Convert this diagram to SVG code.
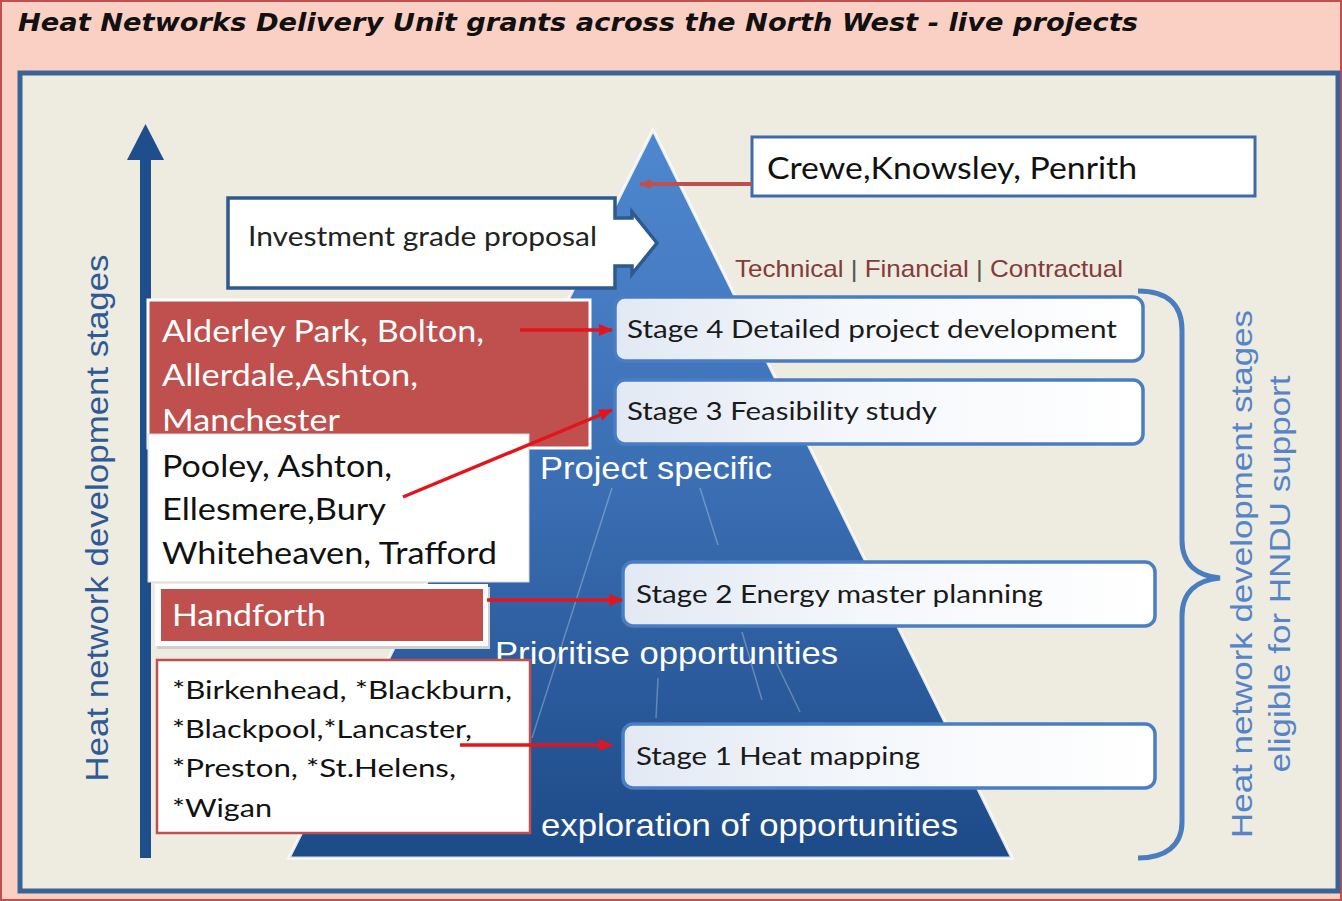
<svg xmlns="http://www.w3.org/2000/svg" width="1342" height="901" viewBox="0 0 1342 901">
<defs>
<linearGradient id="pyr" x1="0" y1="130" x2="0" y2="858" gradientUnits="userSpaceOnUse">
<stop offset="0" stop-color="#4f88d0"/>
<stop offset="0.5" stop-color="#3a6db2"/>
<stop offset="1" stop-color="#1d4a88"/>
</linearGradient>
<linearGradient id="stagefill" x1="0" y1="0" x2="1" y2="0">
<stop offset="0" stop-color="#e2e9f4"/>
<stop offset="0.45" stop-color="#f4f7fb"/>
<stop offset="1" stop-color="#ffffff"/>
</linearGradient>
<marker id="redhead" markerWidth="14" markerHeight="12" refX="13" refY="6" orient="auto" markerUnits="userSpaceOnUse">
<path d="M0,0 L14,6 L0,12 z" fill="#e3141c"/>
</marker>
<marker id="darkredhead" markerWidth="12" markerHeight="10" refX="11" refY="5" orient="auto" markerUnits="userSpaceOnUse">
<path d="M0,0 L12,5 L0,10 z" fill="#c0504d"/>
</marker>
<style>
.cal{font-family:Lato,"Noto Sans","Liberation Sans",sans-serif}
.ari{font-family:"Liberation Sans",Arial,sans-serif}
.stage rect{fill:url(#stagefill);stroke:#4a7ec4;stroke-width:3.5}
.stage text{font-size:25px;fill:#1a1a1a}
.redbox{fill:#c0504d;stroke:#ffffff;stroke-width:3}
.wtxt{fill:#ffffff;font-size:30px}
.btxt{fill:#111111;font-size:30px}
.stxt{fill:#111111;font-size:25px}
.pyrtxt{fill:#ffffff;font-size:32px}
.conn{stroke:#e3141c;stroke-width:3.5;fill:none;marker-end:url(#redhead)}
</style>
</defs>

<!-- background -->
<rect x="0" y="0" width="1342" height="901" fill="#fbd0c4"/>
<rect x="1" y="1" width="1340" height="899" fill="none" stroke="#c0504d" stroke-width="2"/>
<text x="18" y="31" font-family="'DejaVu Sans',Verdana,sans-serif" font-weight="bold" font-style="italic" font-size="25" fill="#111111" textLength="1120" lengthAdjust="spacingAndGlyphs">Heat Networks Delivery Unit grants across the North West - live projects</text>

<!-- panel -->
<rect x="20" y="73" width="1318" height="818" fill="#eeebe1" stroke="#3b6495" stroke-width="5"/>

<!-- vertical axis arrow -->
<g id="axis">
<rect x="140" y="158" width="11" height="700" fill="#1f4e8c"/>
<path d="M127,160 L145.5,124 L164,160 z" fill="#1f4e8c"/>
<text class="ari" transform="translate(108,518) rotate(-90)" text-anchor="middle" font-size="31" fill="#2e5a96" textLength="527" lengthAdjust="spacingAndGlyphs">Heat network development stages</text>
</g>

<!-- pyramid -->
<g id="pyramid">
<path d="M653,130 L1012,858 L289,858 z" fill="url(#pyr)" stroke="#ffffff" stroke-width="3" stroke-opacity="0.85"/>
<g stroke="#ffffff" stroke-opacity="0.28" stroke-width="1.5">
<line x1="612" y1="488" x2="532" y2="738"/>
<line x1="700" y1="488" x2="718" y2="545"/>
<line x1="742" y1="632" x2="762" y2="700"/>
<line x1="775" y1="660" x2="800" y2="712"/>
<line x1="658" y1="678" x2="656" y2="718"/>
</g>
<text class="ari pyrtxt" x="540" y="479" textLength="232" lengthAdjust="spacingAndGlyphs">Project specific</text>
<text class="ari pyrtxt" x="495" y="664" textLength="343" lengthAdjust="spacingAndGlyphs">Prioritise opportunities</text>
<text class="ari pyrtxt" x="541" y="836" textLength="417" lengthAdjust="spacingAndGlyphs">exploration of opportunities</text>
</g>

<!-- investment grade proposal -->
<g id="investment">
<path d="M228,198 L615,198 L615,218 L632,218 L632,212 L657,243 L632,274 L632,266 L615,266 L615,288 L228,288 z" fill="#ffffff" stroke="#2f5a8f" stroke-width="3.5" stroke-linejoin="miter"/>
<text class="cal" x="248" y="246" font-size="26" fill="#222222" textLength="349" lengthAdjust="spacingAndGlyphs">Investment grade proposal</text>
</g>

<!-- Crewe box -->
<g id="crewe">
<rect x="752" y="137" width="503" height="59" fill="#ffffff" stroke="#3d6aa8" stroke-width="3"/>
<text class="cal" x="767" y="179" font-size="31" fill="#111111" textLength="370" lengthAdjust="spacingAndGlyphs">Crewe,Knowsley, Penrith</text>
</g>

<!-- technical label -->
<g id="tfc">
<text class="ari" x="735" y="277" font-size="24" fill="#843c39" textLength="388" lengthAdjust="spacingAndGlyphs">Technical <tspan fill="#555555">|</tspan> Financial <tspan fill="#555555">|</tspan> Contractual</text>
</g>

<!-- stages -->
<g id="stage4" class="stage cal">
<rect x="615" y="297" width="528" height="64" rx="10"/>
<text x="627" y="338" textLength="490" lengthAdjust="spacingAndGlyphs">Stage 4 Detailed project development</text>
</g>
<g id="stage3" class="stage cal">
<rect x="615" y="380" width="528" height="64" rx="10"/>
<text x="627" y="420" textLength="310" lengthAdjust="spacingAndGlyphs">Stage 3 Feasibility study</text>
</g>
<g id="stage2" class="stage cal">
<rect x="623" y="562" width="532" height="64" rx="10"/>
<text x="636" y="603" textLength="407" lengthAdjust="spacingAndGlyphs">Stage 2 Energy master planning</text>
</g>
<g id="stage1" class="stage cal">
<rect x="623" y="724" width="532" height="64" rx="10"/>
<text x="636" y="765" textLength="284" lengthAdjust="spacingAndGlyphs">Stage 1 Heat mapping</text>
</g>

<!-- brace and right label -->
<g id="brace">
<path d="M1138,291 C1168,291 1182,305 1182,330 L1182,540 C1182,565 1198,576 1220,578 C1198,580 1182,591 1182,616 L1182,822 C1182,846 1165,858 1138,858" fill="none" stroke="#4a7cc0" stroke-width="5"/>
<text class="ari" transform="translate(1252,574) rotate(-90)" text-anchor="middle" font-size="30" fill="#5585c8" textLength="528" lengthAdjust="spacingAndGlyphs">Heat network development stages</text>
<text class="ari" transform="translate(1290,574) rotate(-90)" text-anchor="middle" font-size="30" fill="#5585c8" textLength="397" lengthAdjust="spacingAndGlyphs">eligible for HNDU support</text>
</g>

<!-- left project boxes -->
<g id="box-stage4">
<rect class="redbox" x="148" y="300" width="442" height="148"/>
<text class="cal wtxt" x="162" y="342" textLength="322" lengthAdjust="spacingAndGlyphs">Alderley Park, Bolton,</text>
<text class="cal wtxt" x="162" y="386" textLength="256" lengthAdjust="spacingAndGlyphs">Allerdale,Ashton,</text>
<text class="cal wtxt" x="162" y="431" textLength="178" lengthAdjust="spacingAndGlyphs">Manchester</text>
</g>
<g id="box-stage3">
<rect x="148" y="434" width="381" height="148" fill="#ffffff" stroke="#d8d8d8" stroke-width="1"/>
<text class="cal btxt" x="162" y="477" textLength="230" lengthAdjust="spacingAndGlyphs">Pooley, Ashton,</text>
<text class="cal btxt" x="162" y="520" textLength="224" lengthAdjust="spacingAndGlyphs">Ellesmere,Bury</text>
<text class="cal btxt" x="162" y="564" textLength="335" lengthAdjust="spacingAndGlyphs">Whiteheaven, Trafford</text>
</g>
<g id="box-stage2">
<rect x="157" y="587" width="333" height="62" fill="#cfcfcf"/>
<rect x="155" y="584" width="333" height="62" fill="#ffffff"/>
<rect x="161" y="589" width="322" height="52" fill="#c0504d"/>
<text class="cal wtxt" x="172" y="626" textLength="154" lengthAdjust="spacingAndGlyphs">Handforth</text>
</g>
<g id="box-stage1">
<rect x="157" y="660" width="373" height="173" fill="#ffffff" stroke="#c0504d" stroke-width="2.5"/>
<text class="cal stxt" x="172" y="699" textLength="340" lengthAdjust="spacingAndGlyphs">*Birkenhead, *Blackburn,</text>
<text class="cal stxt" x="172" y="738" textLength="300" lengthAdjust="spacingAndGlyphs">*Blackpool,*Lancaster,</text>
<text class="cal stxt" x="172" y="777" textLength="284" lengthAdjust="spacingAndGlyphs">*Preston, *St.Helens,</text>
<text class="cal stxt" x="172" y="817" textLength="100" lengthAdjust="spacingAndGlyphs">*Wigan</text>
</g>

<!-- connectors -->
<g id="connectors">
<line x1="752" y1="184" x2="640" y2="184" stroke="#c0504d" stroke-width="4" marker-end="url(#darkredhead)"/>
<line class="conn" x1="520" y1="330" x2="612" y2="330"/>
<line class="conn" x1="403" y1="497" x2="612" y2="410"/>
<line class="conn" x1="487" y1="600" x2="622" y2="600"/>
<line class="conn" x1="460" y1="745" x2="612" y2="745"/>
</g>
</svg>
